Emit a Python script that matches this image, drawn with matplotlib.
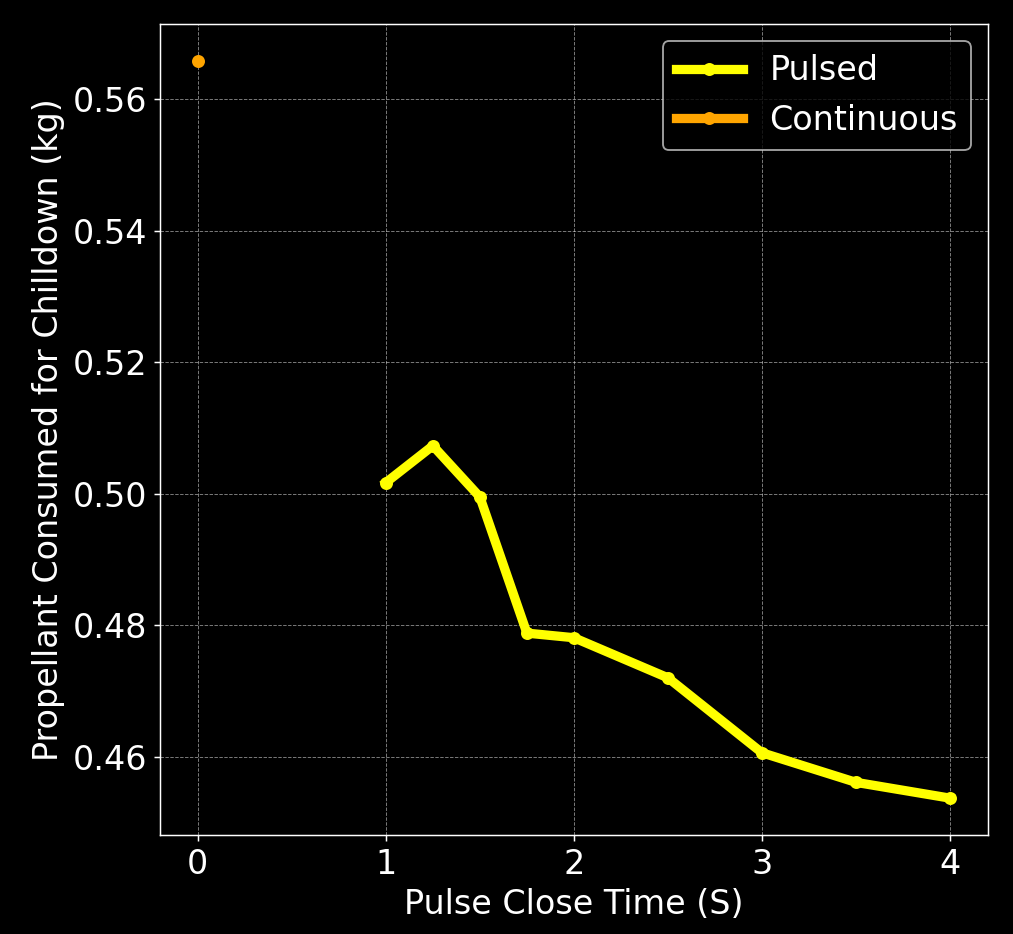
import matplotlib
matplotlib.use("Agg")
import matplotlib.pyplot as plt

# pulse close time (s) vs propellant used (kg)
pulse_times = [1.0, 1.25, 1.5, 1.75, 2.0, 2.5, 3.0, 3.5, 4.0]
pulse_mass = [0.5017, 0.5073, 0.4995, 0.4788, 0.4781, 0.4720, 0.4606, 0.4561, 0.4537]

continuous_time = [0.0]
continuous_mass = [0.5658]

xticks = [0, 1, 2, 3, 4]

dpi = 1014 / 7.605
plt.style.use("dark_background")
fig = plt.figure(figsize=(7.605, 934 / dpi), dpi=dpi)
ax = fig.add_axes([0.158, 0.106, 0.816, 0.868])

ax.plot(pulse_times, pulse_mass, color="yellow", linewidth=5, marker="o",
        markersize=6, label="Pulsed")
ax.plot(continuous_time, continuous_mass, color="orange", linewidth=5, marker="o",
        markersize=6, label="Continuous")

ax.set_xticks(xticks)
ax.set_xlabel("Pulse Close Time (S)", fontsize=18)
ax.set_ylabel("Propellant Consumed for Chilldown (kg)", fontsize=18)
ax.tick_params(labelsize=18)
ax.grid(True, linestyle="--", linewidth=0.5, alpha=0.5)
ax.legend(fontsize=18)

fig.savefig("out.png", dpi=dpi)
